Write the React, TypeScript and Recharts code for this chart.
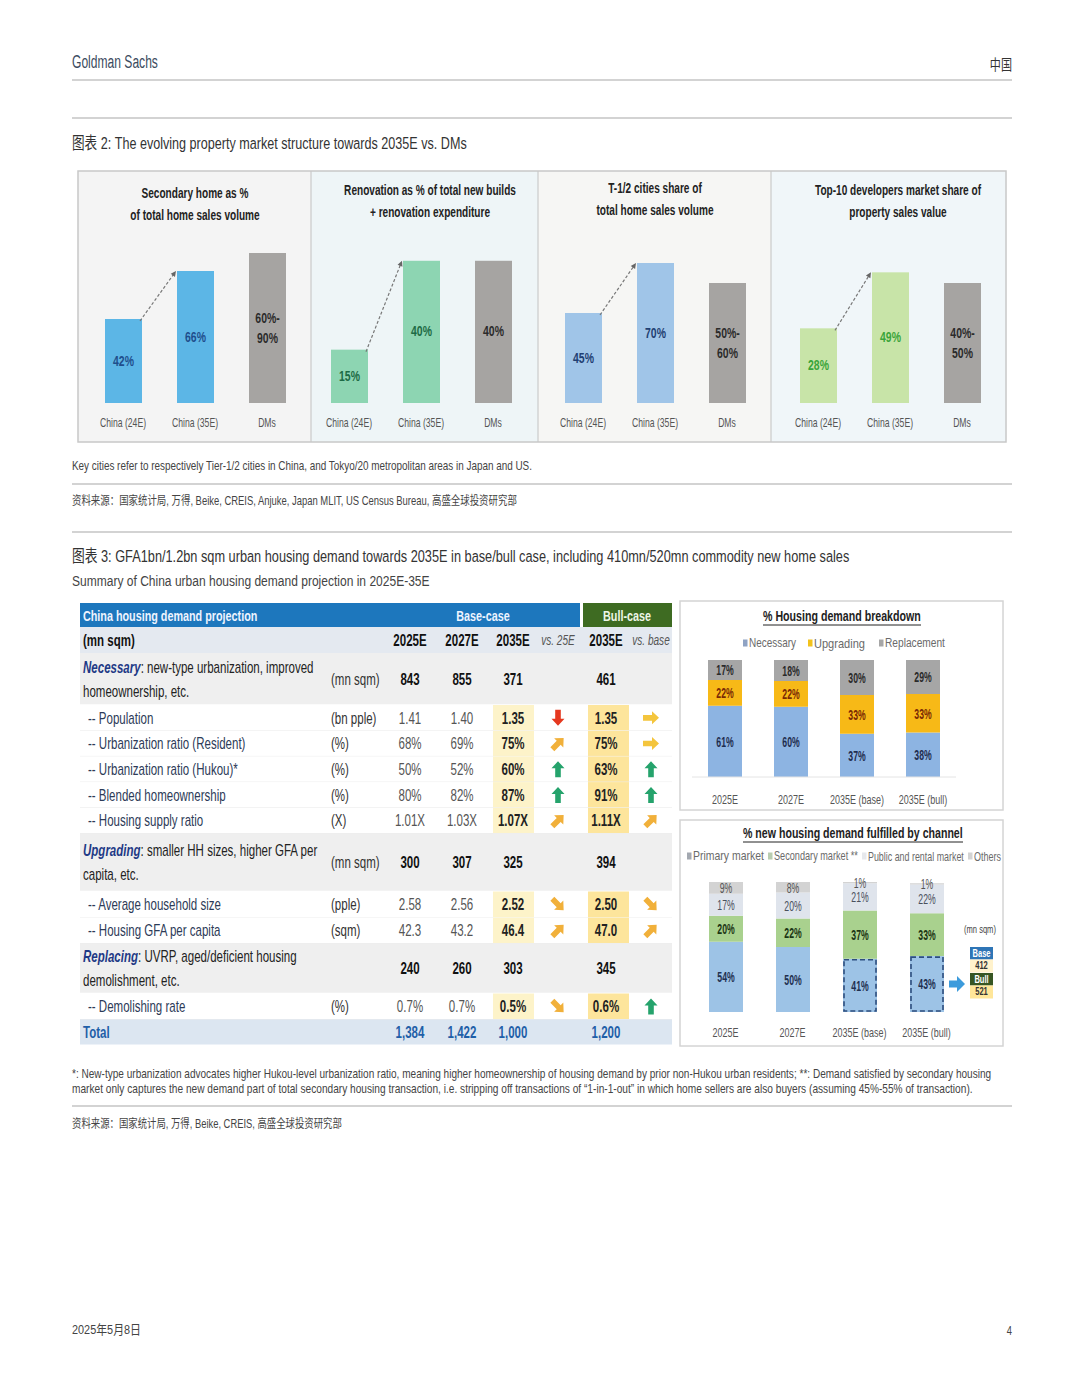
import React from 'react';
import { BarChart, Bar, XAxis, YAxis, LabelList } from 'recharts';

const SANS = "'Liberation Sans', Arial, 'Noto Sans CJK SC', sans-serif";
const SX = 0.72; // horizontal squeeze to mimic the condensed report font

// ---------- 图表 2: four small bar panels ----------
const panelCategories = ['China (24E)', 'China (35E)', 'DMs'];
const secondaryShare = [42, 66, 75];
const secondaryLabels = ['42%', '66%', '60%-|90%'];
const renovationShare = [15, 40, 40];
const renovationLabels = ['15%', '40%', '40%'];
const tierCityShare = [45, 70, 60];
const tierCityLabels = ['45%', '70%', '50%-|60%'];
const top10Share = [28, 49, 45];
const top10Labels = ['28%', '49%', '40%-|50%'];

// ---------- 图表 3: demand table ----------
const rowKinds = ['section', 'detail', 'detail', 'detail', 'detail', 'detail', 'section', 'detail', 'detail', 'section', 'detail', 'total'];
const rowLabels = ['Necessary', 'Population', 'Urbanization ratio (Resident)', 'Urbanization ratio (Hukou)*', 'Blended homeownership', 'Housing supply ratio', 'Upgrading', 'Average household size', 'Housing GFA per capita', 'Replacing', 'Demolishing rate', 'Total'];
const sectionNotes: Record<string, string[]> = {
  Necessary: [': new-type urbanization, improved', 'homeownership, etc.'],
  Upgrading: [': smaller HH sizes, higher GFA per', 'capita, etc.'],
  Replacing: [': UVRP, aged/deficient housing', 'demolishment, etc.'],
};
const rowUnits = ['(mn sqm)', '(bn pple)', '(%)', '(%)', '(%)', '(X)', '(mn sqm)', '(pple)', '(sqm)', '', '(%)', ''];
const base2025E = ['843', '1.41', '68%', '50%', '80%', '1.01X', '300', '2.58', '42.3', '240', '0.7%', '1,384'];
const base2027E = ['855', '1.40', '69%', '52%', '82%', '1.03X', '307', '2.56', '43.2', '260', '0.7%', '1,422'];
const base2035E = ['371', '1.35', '75%', '60%', '87%', '1.07X', '325', '2.52', '46.4', '303', '0.5%', '1,000'];
const trendVs25E = ['', 'down', 'upright', 'up', 'up', 'upright', '', 'downright', 'upright', '', 'downright', ''];
const bull2035E = ['461', '1.35', '75%', '63%', '91%', '1.11X', '394', '2.50', '47.0', '345', '0.6%', '1,200'];
const trendVsBase = ['', 'right', 'right', 'up', 'up', 'upright', '', 'downright', 'upright', '', 'up', ''];

// ---------- 图表 3: stacked charts ----------
const demandCategories = ['2025E', '2027E', '2035E (base)', '2035E (bull)'];
const necessaryPct = [61, 60, 37, 38];
const upgradingPct = [22, 22, 33, 33];
const replacementPct = [17, 18, 30, 29];
const primaryPct = [54, 50, 41, 43];
const secondaryPct = [20, 22, 37, 33];
const publicRentalPct = [17, 20, 21, 22];
const othersPct = [9, 8, 1, 1];
const commodityCases = ['Base', 'Bull'];
const commoditySales = ['412', '521'];

const DM_GREY = '#a6a4a2';

let measureCtx: CanvasRenderingContext2D | null = null;
function measure(text: string, size: number, weight: number | string, italic: boolean) {
  if (!measureCtx) measureCtx = document.createElement('canvas').getContext('2d');
  if (!measureCtx) return text.length * size * 0.5;
  measureCtx.font = `${italic ? 'italic ' : ''}${weight} ${size}px ${SANS}`;
  return measureCtx.measureText(text).width || text.length * size * 0.5;
}

function NText({ x, y, size = 12, weight = 400, italic = false, fill = '#333', anchor = 'start', fit, sx = SX, children }: any) {
  const common: any = {
    fontFamily: SANS,
    fontSize: size,
    fontWeight: weight,
    fontStyle: italic ? 'italic' : 'normal',
    fill,
    textAnchor: anchor,
    dominantBaseline: 'central',
  };
  const k = fit ? fit / measure(String(children), size, weight, italic) : sx;
  return (
    <g transform={`translate(${x} ${y}) scale(${k} 1)`}>
      <text x={0} y={0} {...common}>
        {children}
      </text>
    </g>
  );
}

const CatTick = (props: any) => {
  const { x, y, payload, dy = 20, size = 12, fill = '#555' } = props;
  return (
    <NText x={x} y={y + dy} size={size} anchor="middle" fill={fill}>
      {payload.value}
    </NText>
  );
};

const PANELS = [
  { key: 'sec', x0: 78, x1: 311, bg: '#f4f4f4', title: ['Secondary home as %', 'of total home sales volume'], titleCx: 195, titleY: 193, values: secondaryShare, labels: secondaryLabels, fill: '#5cb6e6', labelFill: '#1f4e8c', yMax: 80, chartLeft: 86.5 },
  { key: 'reno', x0: 311, x1: 538, bg: '#eef5f7', title: ['Renovation as % of total new builds', '+ renovation expenditure'], titleCx: 430, titleY: 190, values: renovationShare, labels: renovationLabels, fill: '#8dd5b2', labelFill: '#1d6b45', yMax: 45, chartLeft: 313 },
  { key: 'tier', x0: 538, x1: 771, bg: '#f6f6f4', title: ['T-1/2 cities share of', 'total home sales volume'], titleCx: 655, titleY: 188, values: tierCityShare, labels: tierCityLabels, fill: '#a0c5e8', labelFill: '#1f3f72', yMax: 80, chartLeft: 546.5 },
  { key: 'top10', x0: 771, x1: 1006, bg: '#f0f6f9', title: ['Top-10 developers market share of', 'property sales value'], titleCx: 898, titleY: 190, values: top10Share, labels: top10Labels, fill: '#c8e4a8', labelFill: '#3aa53a', yMax: 60, chartLeft: 781.5 },
];
const BAND = 72;

function MarketPanel({ cfg }: any) {
  const data = panelCategories.map((name, i) => ({ name, value: cfg.values[i], label: cfg.labels[i] }));

  const shape = (p: any) => {
    const { x, y, width, height, index } = p;
    const rect = <rect x={x} y={y} width={width} height={height} fill={index === 2 ? DM_GREY : cfg.fill} />;
    if (index !== 0) return rect;
    // dashed arrow from the top of the 24E bar to the top of the 35E bar
    const unit = height / cfg.values[0];
    const base = y + height;
    const x1 = x + width - 2;
    const y1 = y + 2;
    const x2 = x + BAND - 1;
    const y2 = base - cfg.values[1] * unit;
    const ang = Math.atan2(y2 - y1, x2 - x1);
    const hl = 6;
    const a1 = [x2 - hl * Math.cos(ang - 0.45), y2 - hl * Math.sin(ang - 0.45)];
    const a2 = [x2 - hl * Math.cos(ang + 0.45), y2 - hl * Math.sin(ang + 0.45)];
    return (
      <g>
        {rect}
        <line x1={x1} y1={y1} x2={x2 - 3 * Math.cos(ang)} y2={y2 - 3 * Math.sin(ang)} stroke="#777" strokeWidth={1.2} strokeDasharray="3 2" />
        <polygon points={`${x2},${y2} ${a1[0]},${a1[1]} ${a2[0]},${a2[1]}`} fill="#666" />
      </g>
    );
  };

  const label = (p: any) => {
    const { x, y, width, height, value, index } = p;
    const lines = String(value).split('|');
    const cx = x + width / 2;
    const cy = y + height / 2;
    const fill = index === 2 ? '#2b2b2b' : cfg.labelFill;
    return (
      <g>
        {lines.map((ln, k) => (
          <NText key={k} x={cx} y={cy + (k - (lines.length - 1) / 2) * 20} size={14.5} weight={700} anchor="middle" fill={fill}>
            {ln}
          </NText>
        ))}
      </g>
    );
  };

  return (
    <div style={{ position: 'absolute', left: cfg.chartLeft, top: 243 }}>
      <BarChart width={BAND * 3} height={190} data={data} margin={{ top: 0, right: 0, bottom: 0, left: 0 }}>
        <XAxis dataKey="name" interval={0} axisLine={false} tickLine={false} tickSize={0} tickMargin={0} height={30} tick={(p: any) => <CatTick {...p} dy={20} size={12} fill="#555" />} />
        <YAxis hide domain={[0, cfg.yMax]} allowDataOverflow />
        <Bar dataKey="value" barSize={37} isAnimationActive={false} shape={shape}>
          <LabelList dataKey="label" content={label} />
        </Bar>
      </BarChart>
    </div>
  );
}

const SegLabel = (props: any) => {
  const { x, y, width, height, value, color, weight = 700 } = props;
  return (
    <NText x={x + width / 2} y={y + height / 2} size={14} weight={weight} anchor="middle" fill={color} sx={0.62}>
      {`${value}%`}
    </NText>
  );
};

function BreakdownChart() {
  const data = demandCategories.map((name, i) => ({
    name,
    necessary: necessaryPct[i],
    upgrading: upgradingPct[i],
    replacement: replacementPct[i],
  }));
  return (
    <div style={{ position: 'absolute', left: 692, top: 660 }}>
      <BarChart width={264} height={150} data={data} margin={{ top: 0, right: 0, bottom: 0, left: 0 }}>
        <XAxis dataKey="name" interval={0} tickLine={false} tickSize={0} tickMargin={0} axisLine={{ stroke: '#e4e4e4' }} height={33} tick={(p: any) => <CatTick {...p} dy={22} size={12.5} fill="#555" />} />
        <YAxis hide domain={[0, 100]} allowDataOverflow />
        <Bar dataKey="necessary" stackId="d" fill="#8db4e2" barSize={34} isAnimationActive={false}>
          <LabelList dataKey="necessary" content={(p: any) => <SegLabel {...p} color="#1f2d4f" />} />
        </Bar>
        <Bar dataKey="upgrading" stackId="d" fill="#f7b917" barSize={34} isAnimationActive={false}>
          <LabelList dataKey="upgrading" content={(p: any) => <SegLabel {...p} color="#7a2a05" />} />
        </Bar>
        <Bar dataKey="replacement" stackId="d" fill="#a6a6a6" barSize={34} isAnimationActive={false}>
          <LabelList dataKey="replacement" content={(p: any) => <SegLabel {...p} color="#2a2a2a" />} />
        </Bar>
      </BarChart>
    </div>
  );
}

function ChannelChart() {
  const data = demandCategories.map((name, i) => ({
    name,
    primary: primaryPct[i],
    secondary: secondaryPct[i],
    publicRental: publicRentalPct[i],
    others: othersPct[i],
  }));

  const primaryShape = (p: any) => {
    const { x, y, width, height, index, fill } = p;
    const outlined = demandCategories[index].startsWith('2035E');
    const last = index === demandCategories.length - 1;
    const cy = y + height / 2;
    const sx = x + width + 5;
    return (
      <g>
        <rect x={x} y={y} width={width} height={height} fill={fill} />
        {outlined && (
          <rect x={x + 1} y={y + 1} width={width - 2} height={height - 2} fill="none" stroke="#2d4e7e" strokeWidth={1.6} strokeDasharray="5 3" />
        )}
        {last && (
          <polygon
            points={`${sx},${cy - 3.5} ${sx + 8},${cy - 3.5} ${sx + 8},${cy - 8} ${sx + 16},${cy} ${sx + 8},${cy + 8} ${sx + 8},${cy + 3.5} ${sx},${cy + 3.5}`}
            fill="#3c9bdc"
          />
        )}
      </g>
    );
  };

  return (
    <div style={{ position: 'absolute', left: 692, top: 870 }}>
      <BarChart width={310} height={172} data={data} margin={{ top: 12, right: 42, bottom: 0, left: 0 }}>
        <XAxis dataKey="name" interval={0} tickLine={false} tickSize={0} tickMargin={0} axisLine={false} height={30} tick={(p: any) => <CatTick {...p} dy={20} size={12.5} fill="#555" />} />
        <YAxis hide domain={[0, 100]} allowDataOverflow />
        <Bar dataKey="primary" stackId="c" fill="#9dc3e6" barSize={34} isAnimationActive={false} shape={primaryShape}>
          <LabelList dataKey="primary" content={(p: any) => <SegLabel {...p} color="#1f3050" />} />
        </Bar>
        <Bar dataKey="secondary" stackId="c" fill="#a9d18e" barSize={34} isAnimationActive={false}>
          <LabelList dataKey="secondary" content={(p: any) => <SegLabel {...p} color="#1c3514" />} />
        </Bar>
        <Bar dataKey="publicRental" stackId="c" fill="#dfe4ec" barSize={34} isAnimationActive={false}>
          <LabelList dataKey="publicRental" content={(p: any) => <SegLabel {...p} color="#4a505c" weight={400} />} />
        </Bar>
        <Bar dataKey="others" stackId="c" fill="#d3d3d3" barSize={34} isAnimationActive={false}>
          <LabelList dataKey="others" content={(p: any) => <SegLabel {...p} color="#555" weight={400} />} />
        </Bar>
      </BarChart>
    </div>
  );
}

const ARROWS: Record<string, [number, string]> = {
  up: [0, '#25a36c'],
  down: [180, '#e5381f'],
  right: [90, '#f4c53d'],
  upright: [45, '#f1b03a'],
  downright: [135, '#f1b03a'],
};

function TrendArrow({ cx, cy, dir }: any) {
  if (!dir) return null;
  const [rot, color] = ARROWS[dir];
  return (
    <polygon
      points="0,-8 6.5,-1 2.8,-1 2.8,8 -2.8,8 -2.8,-1 -6.5,-1"
      fill={color}
      transform={`translate(${cx} ${cy}) rotate(${rot})`}
    />
  );
}

const ROW_H = [52, 25.7, 25.7, 25.7, 25.7, 25.7, 58, 26, 26, 50, 26, 25];
const COL = { unit: 331, c25: 410, c27: 462, c35: 513, t25: 558, bull: 606, tb: 651 };

function DemandTable() {
  let cursor = 653;
  const rows = rowKinds.map((kind, i) => {
    const top = cursor;
    cursor += ROW_H[i];
    return { kind, top, h: ROW_H[i], i };
  });
  return (
    <g>
      <rect x={80} y={603} width={500} height={24} fill="#1d77bd" />
      <rect x={583} y={603} width={89} height={24} fill="#3e6b22" />
      <NText x={83} y={615.5} size={15} weight={700} fill="#eef4ff">China housing demand projection</NText>
      <NText x={483} y={615.5} size={15} weight={700} fill="#eef4ff" anchor="middle">Base-case</NText>
      <NText x={627} y={615.5} size={15} weight={700} fill="#eef6e8" anchor="middle">Bull-case</NText>

      <rect x={80} y={627} width={592} height={26} fill="#e4e9f0" />
      <NText x={83} y={640} size={16} weight={700} fill="#111">(mn sqm)</NText>
      <NText x={COL.c25} y={640} size={16} weight={700} fill="#111" anchor="middle">2025E</NText>
      <NText x={COL.c27} y={640} size={16} weight={700} fill="#111" anchor="middle">2027E</NText>
      <NText x={COL.c35} y={640} size={16} weight={700} fill="#111" anchor="middle">2035E</NText>
      <NText x={COL.t25} y={640} size={14} italic fill="#555" anchor="middle">vs. 25E</NText>
      <NText x={COL.bull} y={640} size={16} weight={700} fill="#111" anchor="middle">2035E</NText>
      <NText x={COL.tb} y={640} size={14} italic fill="#555" anchor="middle">vs. base</NText>

      {rows.map(({ kind, top, h, i }) => {
        const cy = top + h / 2;
        const label = rowLabels[i];
        if (kind === 'section') {
          const notes = sectionNotes[label];
          return (
            <g key={i}>
              <rect x={80} y={top} width={592} height={h} fill="#efefef" />
              <line x1={80} x2={672} y1={top + h} y2={top + h} stroke="#ffffff" strokeWidth={1.5} />
              <g transform={`translate(83 ${cy - 12}) scale(${SX} 1)`}>
                <text x={0} y={0} fontFamily={SANS} fontSize={16} dominantBaseline="central" fill="#222">
                  <tspan fontWeight={700} fontStyle="italic" fill="#1f3a86">{label}</tspan>
                  <tspan>{notes[0]}</tspan>
                </text>
              </g>
              <NText x={83} y={cy + 12} size={16} fill="#222">{notes[1]}</NText>
              <NText x={COL.unit} y={cy} size={16} fill="#333">{rowUnits[i]}</NText>
              <NText x={COL.c25} y={cy} size={16} weight={700} fill="#111" anchor="middle">{base2025E[i]}</NText>
              <NText x={COL.c27} y={cy} size={16} weight={700} fill="#111" anchor="middle">{base2027E[i]}</NText>
              <NText x={COL.c35} y={cy} size={16} weight={700} fill="#111" anchor="middle">{base2035E[i]}</NText>
              <NText x={COL.bull} y={cy} size={16} weight={700} fill="#111" anchor="middle">{bull2035E[i]}</NText>
            </g>
          );
        }
        if (kind === 'total') {
          return (
            <g key={i}>
              <rect x={80} y={top} width={592} height={h} fill="#dce6f1" />
              <NText x={83} y={cy} size={16} weight={700} fill="#1f5fa8">{label}</NText>
              <NText x={COL.c25} y={cy} size={16} weight={700} fill="#1f5fa8" anchor="middle">{base2025E[i]}</NText>
              <NText x={COL.c27} y={cy} size={16} weight={700} fill="#1f5fa8" anchor="middle">{base2027E[i]}</NText>
              <NText x={COL.c35} y={cy} size={16} weight={700} fill="#1f5fa8" anchor="middle">{base2035E[i]}</NText>
              <NText x={COL.bull} y={cy} size={16} weight={700} fill="#1f5fa8" anchor="middle">{bull2035E[i]}</NText>
            </g>
          );
        }
        return (
          <g key={i}>
            <rect x={80} y={top} width={592} height={h} fill="#ffffff" />
            <rect x={493} y={top} width={41} height={h} fill="#fdf3c9" />
            <rect x={588} y={top} width={41} height={h} fill="#fde59c" />
            <line x1={80} x2={672} y1={top + h} y2={top + h} stroke="#ececec" strokeWidth={1} />
            <NText x={88} y={cy} size={16} fill="#2d3b58">{`-- ${label}`}</NText>
            <NText x={COL.unit} y={cy} size={16} fill="#333">{rowUnits[i]}</NText>
            <NText x={COL.c25} y={cy} size={16} fill="#555" anchor="middle">{base2025E[i]}</NText>
            <NText x={COL.c27} y={cy} size={16} fill="#555" anchor="middle">{base2027E[i]}</NText>
            <NText x={COL.c35} y={cy} size={16} weight={700} fill="#222" anchor="middle">{base2035E[i]}</NText>
            <TrendArrow cx={COL.t25} cy={cy} dir={trendVs25E[i]} />
            <NText x={COL.bull} y={cy} size={16} weight={700} fill="#222" anchor="middle">{bull2035E[i]}</NText>
            <TrendArrow cx={COL.tb} cy={cy} dir={trendVsBase[i]} />
          </g>
        );
      })}
    </g>
  );
}

function LegendItem({ x, y, color, text, fit, size = 12.5 }: any) {
  return (
    <g>
      <rect x={x} y={y - 3.5} width={4.5} height={7} fill={color} />
      <NText x={x + 6} y={y} size={size} fill="#6a6a6a" fit={fit}>{text}</NText>
    </g>
  );
}

function Frames() {
  const rule = (y: number) => <line x1={72} x2={1012} y1={y} y2={y} stroke="#c4c4c4" strokeWidth={1.5} />;
  return (
    <g>
      <NText x={72} y={61} size={19} fill="#3b4b5e" fit={86}>Goldman Sachs</NText>
      <NText x={1012} y={65} size={15} fill="#333" anchor="end" sx={0.74}>中国</NText>
      {rule(80)}
      {rule(118)}
      <NText x={72} y={143} size={17} fill="#333" fit={395}>图表 2: The evolving property market structure towards 2035E vs. DMs</NText>

      {PANELS.map((p) => (
        <g key={p.key}>
          <rect x={p.x0} y={171} width={p.x1 - p.x0} height={271} fill={p.bg} />
          <NText x={p.titleCx} y={p.titleY} size={14} weight={700} fill="#222" anchor="middle">{p.title[0]}</NText>
          <NText x={p.titleCx} y={p.titleY + 22} size={14} weight={700} fill="#222" anchor="middle">{p.title[1]}</NText>
        </g>
      ))}
      {[311, 538, 771].map((x) => (
        <line key={x} x1={x} x2={x} y1={171} y2={442} stroke="#c2c2c2" strokeWidth={1} />
      ))}
      <rect x={78} y={171} width={928} height={271} fill="none" stroke="#c8c8c8" strokeWidth={1.5} />

      <NText x={72} y={466} size={12.5} fill="#444" fit={461}>Key cities refer to respectively Tier-1/2 cities in China, and Tokyo/20 metropolitan areas in Japan and US.</NText>
      {rule(484)}
      <NText x={72} y={501} size={12} fill="#444" fit={446}>资料来源：国家统计局, 万得, Beike, CREIS, Anjuke, Japan MLIT, US Census Bureau, 高盛全球投资研究部</NText>
      {rule(532)}
      <NText x={72} y={556} size={17} fill="#333" fit={778}>图表 3: GFA1bn/1.2bn sqm urban housing demand towards 2035E in base/bull case, including 410mn/520mn commodity new home sales</NText>
      <NText x={72} y={580} size={15.5} fill="#444" fit={358}>Summary of China urban housing demand projection in 2025E-35E</NText>

      <DemandTable />

      {/* right-hand chart boxes */}
      <rect x={680} y={601} width={323} height={209} fill="#ffffff" stroke="#d4d4d4" strokeWidth={1.5} />
      <NText x={763} y={616} size={14} weight={700} fill="#222" fit={158}>% Housing demand breakdown</NText>
      <line x1={763} x2={921} y1={625} y2={625} stroke="#222" strokeWidth={1} />
      <LegendItem x={743} y={643} color="#8fa3c4" text="Necessary" fit={47} />
      <LegendItem x={808} y={643} color="#f2c21c" text="Upgrading" fit={51} />
      <LegendItem x={879} y={643} color="#a6a6a6" text="Replacement" fit={60} />

      <rect x={680} y={820} width={323} height={226} fill="#ffffff" stroke="#d4d4d4" strokeWidth={1.5} />
      <NText x={743} y={833} size={14} weight={700} fill="#222" fit={220}>% new housing demand fulfilled by channel</NText>
      <line x1={743} x2={963} y1={842} y2={842} stroke="#222" strokeWidth={1} />
      <LegendItem x={687} y={856} color="#a3a8b0" text="Primary market" fit={71} size={12} />
      <LegendItem x={768} y={856} color="#b9cdb0" text="Secondary market **" fit={84} size={12} />
      <LegendItem x={862} y={856} color="#e6e8ec" text="Public and rental market" fit={96} size={12} />
      <LegendItem x={968} y={856} color="#d3d3d3" text="Others" fit={27} size={12} />

      <NText x={980} y={930} size={10.5} fill="#444" anchor="middle">(mn sqm)</NText>
      {commodityCases.map((c, i) => {
        const top = 947 + i * 26;
        return (
          <g key={c}>
            <rect x={970} y={top} width={23} height={12.5} fill={i === 0 ? '#2e75b6' : '#375623'} />
            <NText x={981.5} y={top + 6.5} size={10.5} weight={700} fill="#fff" anchor="middle">{c}</NText>
            <rect x={970} y={top + 12.5} width={23} height={13} fill={i === 0 ? '#fff2cc' : '#ffe699'} />
            <NText x={981.5} y={top + 19} size={10.5} weight={700} fill="#333" anchor="middle">{commoditySales[i]}</NText>
          </g>
        );
      })}

      <NText x={72} y={1074} size={12} fill="#444" fit={920}>*: New-type urbanization advocates higher Hukou-level urbanization ratio, meaning higher homeownership of housing demand by prior non-Hukou urban residents; **: Demand satisfied by secondary housing</NText>
      <NText x={72} y={1089} size={12} fill="#444" fit={901}>market only captures the new demand part of total secondary housing transaction, i.e. stripping off transactions of “1-in-1-out” in which home sellers are also buyers (assuming 45%-55% of transaction).</NText>
      {rule(1106)}
      <NText x={72} y={1124} size={12} fill="#444" fit={270}>资料来源：国家统计局, 万得, Beike, CREIS, 高盛全球投资研究部</NText>

      <NText x={72} y={1330} size={13} fill="#444" fit={69}>2025年5月8日</NText>
      <NText x={1012} y={1330} size={13} fill="#444" anchor="end">4</NText>
    </g>
  );
}

export default function App() {
  return (
    <div style={{ position: 'absolute', left: 0, top: 0, width: 1080, height: 1398, background: '#ffffff', overflow: 'hidden' }}>
      <svg width={1080} height={1398} style={{ position: 'absolute', left: 0, top: 0 }}>
        <Frames />
      </svg>
      {PANELS.map((p) => (
        <MarketPanel key={p.key} cfg={p} />
      ))}
      <BreakdownChart />
      <ChannelChart />
    </div>
  );
}
